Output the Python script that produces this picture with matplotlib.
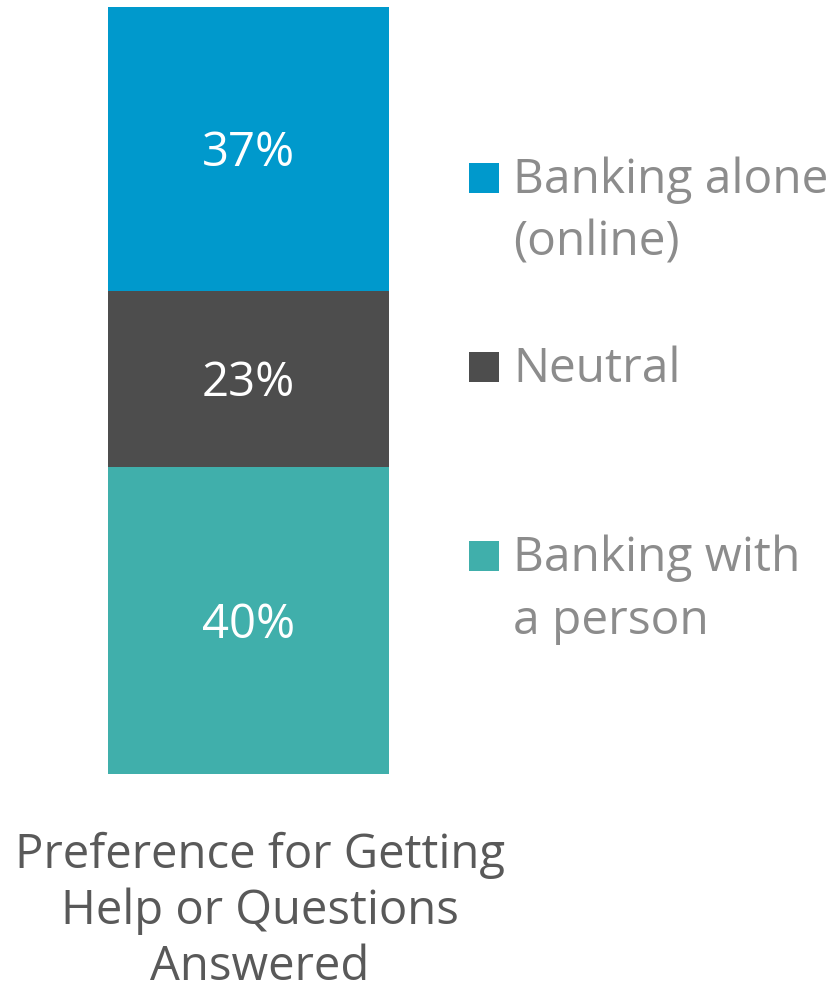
import matplotlib.pyplot as plt
from matplotlib.patches import Rectangle

plt.rcParams['font.family'] = ['Open Sans', 'DejaVu Sans']

category = "Preference for Getting\nHelp or Questions\nAnswered"
labels = ["Banking with\na person", "Neutral", "Banking alone\n(online)"]
values = [40, 23, 37]
colors = ["#40AFAB", "#4D4D4D", "#0099CC"]

W, H = 833, 987
fig = plt.figure(figsize=(W / 100, H / 100), dpi=100)
ax = fig.add_axes([108 / W, (H - 775) / H, 281 / W, 767 / H])

bottom = 0
for v, c in zip(values, colors):
    ax.bar(0, v, width=1.0, bottom=bottom, color=c, linewidth=0)
    # baseline shifted down by half the cap height so digits sit centred
    ax.annotate(f"{v}%", (0, bottom + v / 2), xytext=(0, -11.5),
                textcoords='offset points', ha='center', va='baseline',
                color='white', fontsize=34)
    bottom += v

ax.set_xlim(-0.5, 0.5)
ax.set_ylim(0, sum(values))
ax.axis('off')

# category label under the bar, one line at a time
for i, line in enumerate(category.split("\n")):
    fig.text(260 / W, 1 - (868 + 56 * i) / H, line, ha='center', va='baseline',
             fontsize=34, color='#595959')

# legend, top entry first
leg_base = [193, 382, 571]
for lab, c, yb in zip(labels[::-1], colors[::-1], leg_base):
    fig.patches.append(Rectangle((469 / W, 1 - (yb + 1) / H), 30 / W, 30 / H,
                                 transform=fig.transFigure, color=c, linewidth=0))
    for i, line in enumerate(lab.split("\n")):
        fig.text(513 / W, 1 - (yb + 63 * i) / H, line, ha='left', va='baseline',
                 fontsize=34.5, color='#8C8C8C')

fig.savefig("out.png", dpi=100)
